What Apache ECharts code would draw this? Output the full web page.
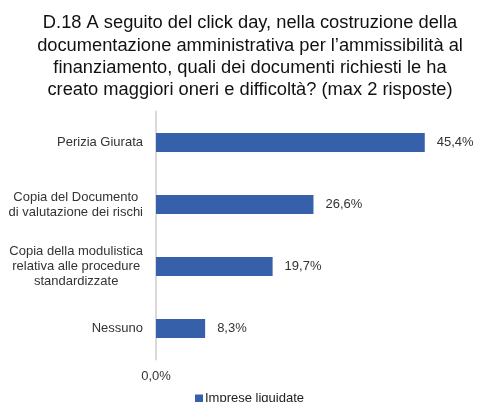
<!DOCTYPE html>
<html>
<head>
<meta charset="utf-8">
<script src="https://cdn.jsdelivr.net/npm/echarts@6/dist/echarts.min.js"></script>
<style>
  html, body { margin: 0; padding: 0; background: #fff; }
  #chart { width: 478px; height: 402px; }
</style>
</head>
<body>
<div id="chart"></div>
<script>
// Answers, listed top to bottom as they appear
const categories = [
  ['Perizia Giurata'],
  ['Copia del Documento', 'di valutazione dei rischi'],
  ['Copia della modulistica', 'relativa alle procedure', 'standardizzate'],
  ['Nessuno']
];
const seriesName = 'Imprese liquidate';
const values = [45.4, 26.6, 19.7, 8.3];
const xTickLabels = ['0,0%'];

const fmtPct = v => v.toFixed(1).replace('.', ',') + '%';
const FONT = '"Liberation Sans", Arial, sans-serif';

const chart = echarts.init(document.getElementById('chart'), null, { renderer: 'canvas' });

chart.setOption({
  animation: false,
  backgroundColor: '#ffffff',
  title: {
    text: 'D.18 A seguito del click day, nella costruzione della\ndocumentazione amministrativa per l\u2019ammissibilità al\nfinanziamento, quali dei documenti richiesti le ha\ncreato maggiori oneri e difficoltà? (max 2 risposte)',
    left: 245,
    top: 7,
    textAlign: 'center',
    textStyle: {
      fontFamily: FONT,
      fontSize: 18.3,
      fontWeight: 'normal',
      color: '#111111',
      lineHeight: 22.4,
      align: 'center'
    }
  },
  legend: {
    data: [seriesName],
    left: 195,
    top: 392,
    padding: 0,
    itemWidth: 8,
    itemHeight: 8,
    icon: 'rect',
    textStyle: { fontFamily: FONT, fontSize: 13, color: '#222222', padding: [0, 0, 0, -3] }
  },
  grid: { left: 156, right: 26, top: 111.5, bottom: 42.5, containLabel: false },
  xAxis: {
    type: 'value',
    min: 0,
    max: 50,
    interval: 50,
    splitLine: { show: false },
    axisLine: { show: false },
    axisTick: { show: false },
    axisLabel: {
      margin: 10,
      fontFamily: FONT,
      fontSize: 13,
      color: '#333333',
      formatter: v => (v === 0 ? xTickLabels[0] : '')
    }
  },
  yAxis: {
    type: 'category',
    inverse: true,
    data: categories.map(c => c.join('\n')),
    axisLine: { show: true, lineStyle: { color: '#d9d9d9', width: 2 } },
    axisTick: { show: false },
    axisLabel: {
      margin: 13,
      fontFamily: FONT,
      fontSize: 13,
      color: '#333333',
      lineHeight: 15,
      formatter: v => v.split('\n').map(l => '{c|' + l + '}').join('\n'),
      rich: { c: { align: 'center', fontFamily: FONT, fontSize: 13, color: '#333333', lineHeight: 15 } }
    }
  },
  series: [{
    name: seriesName,
    type: 'bar',
    data: values,
    barWidth: 19,
    itemStyle: { color: '#3760ab' },
    label: {
      show: true,
      position: 'right',
      distance: 12,
      fontFamily: FONT,
      fontSize: 13,
      color: '#333333',
      formatter: p => fmtPct(p.value)
    }
  }]
});
</script>
</body>
</html>
